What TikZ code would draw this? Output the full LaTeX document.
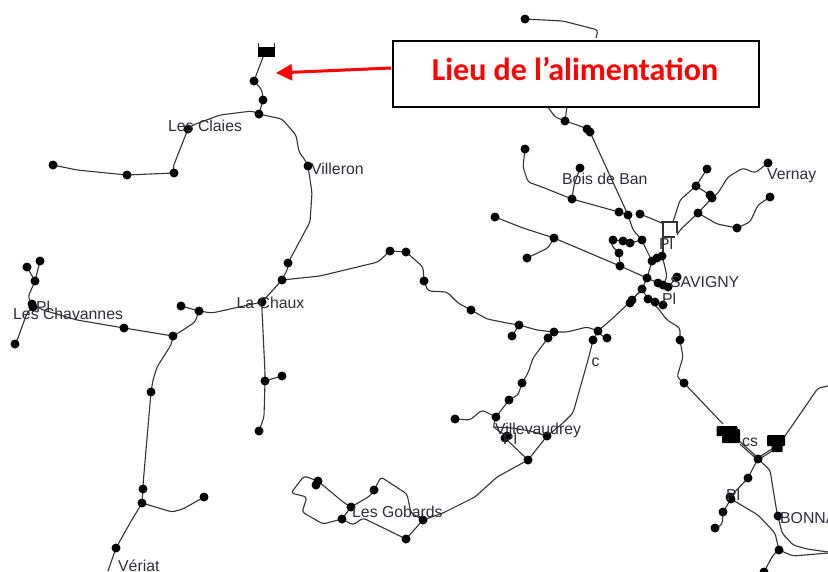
\documentclass[tikz,border=0pt]{standalone}
\usepackage{fontspec}
\setmainfont{Liberation Sans}
\newfontfamily\calibri{Carlito}
\usetikzlibrary{arrows.meta}
\definecolor{linec}{HTML}{333333}
\definecolor{labelc}{HTML}{2E2E3C}
\definecolor{alarm}{HTML}{FF0000}
\tikzset{
  dot/.style={circle,fill=black,draw=none,minimum size=9pt,inner sep=0pt},
  blob/.style={fill=black,draw=none,inner sep=0pt,rounded corners=1pt},
  net/.style={draw=linec,line width=1.1pt,line join=round,rounded corners=3pt},
  lab/.style={anchor=base west,inner sep=0pt,text=labelc,font=\fontsize{15.8pt}{17pt}\selectfont},
}
\begin{document}
\begin{tikzpicture}[x=1pt,y=-1pt]
\useasboundingbox[fill=white] (0,0) rectangle (828,571);
\foreach \n/\x/\y in {
 t1/254/81,t2/263/100,t3/259/114,lc/188/129,a1/174/173,a2/127/175,a3/53/165,vi/308/166,b1/288/263,b2/282/280,ch/262/302,
 c1/199/311,c2/181/306,c3/173/336,c4/124/328,p1/32/304,p2/33/307,p3/35/281,p4/27/267,p5/40/261,p6/15/344,
 d1/151/392,d2/143/489,d3/142/503,d4/204/497,d5/116/548,
 e1/265/381,e2/282/376,e3/259/431,
 f1/390/251,f2/406/252,f3/424/281,f4/471/310,f5/519/325,f6/512/336,f7/554/332,f8/598/331,f9/607/338,f10/593/340,
 g1/548/338,g2/522/383,g3/509/400,g4/496/417,g5/455/419,g6/507/436,g6b/505/438,g7/547/436,g8/528/460,
 h1/423/520,h2/406/539,h3/342/519,h4/351/507,h5/316/485,h5b/318/481,h6/374/490,
 k0/525/19,k1/565/121,k2/587/129,k2b/590/132,
 m1/525/149,m2/572/199,m3/580/168,m4/619/212,m5/628/215,m6/640/214,
 n1/696/186,n2/707/169,n3/710/195,n3b/712/198,n4/698/213,n5/737/228,n6/770/197,n7/768/163,
 q1/495/217,q2/554/238,q3/527/258,q4/620/266,
 r1/613/240,r2/623/241,r3/630/243,r4/642/240,r5/619/253,r6/652/261,r7/657/258,r8/662/256,
 s1/647/278,s2/658/283,s3/663/285,s4/668/287,s5/677/277,s6/642/289,s7/632/300,s7b/630/303,s8/648/299,s9/655/302,s10/663/305,
 u1/680/340,u2/684/383,v1/758/459,v2/748/478,v3/730/497,v3b/731/499,v4/723/512,v5/715/528,v6/778/516,v7/779/550,v8/764/572}
 {\coordinate (\n) at (\x,\y);}
\coordinate (tank) at (263,57);
\coordinate (blobL) at (723,424);
\coordinate (blobLe) at (740,443);
\coordinate (blobR) at (772,450);
\coordinate (blobRt) at (785,436);
\begin{scope}[every path/.style={net}]
\draw (tank) -- (t1) -- (262,90) -- (t2) -- (t3);
\draw (t3) -- (252,111) -- (220,115) -- (193,125) -- (lc) -- (173,167) -- (a1) -- (a2) -- (77,170) -- (a3);
\draw (t3) -- (282,119) -- (296,135) -- (299,152) -- (305,160) -- (vi) -- (312,193) -- (310,222) -- (b1) -- (288,268) -- (b2);
\draw (b2) -- (ch) -- (212,313) -- (c1) -- (c2);
\draw (c1) -- (195,322) -- (180,332) -- (c3) -- (c4) -- (77,320) -- (43,310) -- (p1);
\draw (p6) -- (18,338) -- (27,313) -- (p2) -- (p1) -- (28,297) -- (p3) -- (p4);
\draw (p3) -- (p5);
\draw (c3) -- (171,345) -- (157,367) -- (153,380) -- (d1) -- (143,485) -- (d2) -- (d3) -- (172,512) -- (183,509) -- (d4);
\draw (d3) -- (130,523) -- (d5) -- (108,571);
\draw (ch) -- (262,310) -- (265,373) -- (e1) -- (e2);
\draw (e1) -- (264,417) -- (e3);
\draw (b2) -- (320,276) -- (378,262) -- (f1) -- (f2) -- (423,267) -- (f3) -- (428,291) -- (447,292) -- (458,303) -- (f4) -- (487,319) -- (507,323) -- (f5) -- (f6);
\draw (f5) -- (537,330) -- (f7) -- (567,332) -- (587,327) -- (f8) -- (603,337) -- (f9);
\draw (f8) -- (f10) -- (588,360) -- (573,413) -- (562,424) -- (g7) -- (g8) -- (g6b) -- (g6);
\draw (f7) -- (g1) -- (533,358) -- (528,373) -- (g2) -- (518,395) -- (g3) -- (g4) -- (482,410) -- (470,420) -- (g5);
\draw (g4) -- (493,427) -- (g6);
\draw (493,427) -- (513,428) -- (530,431) -- (g7);
\draw (g8) -- (497,477) -- (475,497) -- (443,513) -- (h1) -- (h2) -- (363,518) -- (353,525) -- (h3) -- (323,524) -- (302,512) -- (307,497) -- (291,493) -- (304,476) -- (h5b) -- (h5);
\draw (h5b) -- (343,502) -- (h4) -- (h3);
\draw (h4) -- (370,496) -- (h6) -- (381,477) -- (407,494) -- (411,513) -- (h1);
\draw (k0) -- (563,21) -- (598,30) -- (596,38);
\draw (548,107) -- (555,117) -- (k1);
\draw (567,107) -- (k1) -- (580,126) -- (k2) -- (k2b) -- (m5) -- (633,230) -- (r4) -- (645,247) -- (r6);
\draw (m1) -- (523,167) -- (528,182) -- (542,187) -- (m2) -- (m4) -- (m5);
\draw (m3) -- (574,185) -- (m2);
\draw (m6) -- (662,223);
\draw (n2) -- (n1) -- (680,200) -- (673,222);
\draw (n1) -- (n3) -- (n3b) -- (n4) -- (680,230) -- (677,235);
\draw (n4) -- (717,224) -- (n5) -- (750,222) -- (758,205) -- (n6);
\draw (n3b) -- (718,193) -- (728,177) -- (743,168) -- (755,173) -- (n7);
\draw (q1) -- (523,228) -- (q2) -- (q4) -- (s1);
\draw (q2) -- (548,248) -- (q3);
\draw (r1) -- (r2) -- (r3) -- (r4);
\draw (r1) -- (611,245) -- (r5) -- (q4);
\draw[rounded corners=0pt] (663,222) -- (663,237) -- (675,237);
\draw (677,222) -- (677,233);
\draw[line width=2pt] (661,222) -- (678,222);
\draw (r6) -- (r7) -- (r8);
\draw (663,237) -- (663,256);
\draw (r8) -- (665,267) -- (667,277) -- (s3);
\draw (r6) -- (s1) -- (s2) -- (s3) -- (s4);
\draw (s5) -- (s4);
\draw (s1) -- (s6);
\draw ([xshift=1.2pt,yshift=1.2pt]s6.center) -- ([xshift=1.2pt,yshift=1.2pt]s7.center);
\draw ([xshift=-1pt,yshift=-1pt]s6.center) -- ([xshift=-1pt,yshift=-1pt]s7.center);
\draw (s7) -- (613,318) -- (f8);
\draw (s6) -- (s8) -- (s9) -- (s10);
\draw (s8) -- (657,307) -- (667,320) -- (680,328) -- (u1) -- (683,357) -- (677,377) -- (u2) -- (blobL);
\draw ([yshift=1.2pt]blobLe) -- ([yshift=1.2pt]v1);
\draw ([yshift=-1.2pt]blobLe) -- ([yshift=-1.2pt]v1);
\draw ([yshift=1.2pt]blobR) -- ([yshift=1.2pt]v1);
\draw ([yshift=-1pt]blobR) -- ([yshift=-1pt]v1);
\draw (blobRt) -- (818,388) -- (828,386);
\draw (v1) -- (770,470) -- (777,513) -- (v6) -- (782,533) -- (793,545) -- (807,549) -- (828,552);
\draw (v1) -- (753,468) -- (v2) -- (v3);
\draw (v3b) -- (v4) -- (722,525) -- (v5);
\draw (v3b) -- (758,515) -- (775,533) -- (v7) -- (793,556) -- (828,553);
\draw (v7) -- (773,555) -- (v8);
\end{scope}
\foreach \n in {t1,t2,t3,lc,a1,a2,a3,vi,b1,b2,ch,c1,c2,c3,c4,p1,p2,p3,p4,p5,p6,d1,d2,d3,d4,d5,e1,e2,e3,
 f1,f2,f3,f4,f5,f6,f7,f8,f9,f10,g1,g2,g3,g4,g5,g6,g6b,g7,g8,h1,h2,h3,h4,h5,h5b,h6,
 k0,k1,k2,k2b,m1,m2,m3,m4,m5,m6,n1,n2,n3,n3b,n4,n5,n6,n7,q1,q2,q3,q4,
 r1,r2,r3,r4,r5,r6,r7,r8,s1,s2,s3,s4,s5,s6,s7,s7b,s8,s9,s10,u1,u2,v1,v2,v3,v3b,v4,v5,v6,v7,v8}
 {\node[dot] at (\n) {};}
\node[blob,rounded corners=0pt,minimum width=17pt,minimum height=10pt] (tanknode) at (266,51.5) {};
\draw[linec,line width=0.6pt] (258,43) -- (258,47) (274,43) -- (274,47);
\node[blob,minimum width=21pt,minimum height=10pt] (bl1) at (727,431) {};
\node[blob,minimum width=18pt,minimum height=14pt] (bl2) at (731,436) {};
\node[blob,minimum width=18pt,minimum height=11pt] (br1) at (776,440.5) {};
\node[blob,minimum width=11pt,minimum height=9pt] (br2) at (777,447.5) {};
\node[lab] (l1) at (168,131.7) {Les Claies};
\node[lab] (l2) at (311,174) {Villeron};
\node[lab] (l3) at (236.5,308) {La Chaux};
\node[lab] (l4) at (13,319) {Les Chavannes};
\node[lab] (l5) at (36,312) {Pl};
\node[lab] (l6) at (118,571) {Vériat};
\node[lab] (l7) at (562,184) {Bois de Ban};
\node[lab] (l8) at (767,179) {Vernay};
\node[lab] (l9) at (659,249) {Pl};
\node[lab] (l10) at (670,287) {SAVIGNY};
\node[lab] (l11) at (662,304) {Pl};
\node[lab] (l12) at (591.5,366) {c};
\node[lab] (l13) at (495,434) {Villevaudrey};
\node[lab] (l14) at (503,444) {Pl};
\node[lab] (l15) at (352,517) {Les Gobards};
\node[lab] (l16) at (742,446) {cs};
\node[lab] (l17) at (726,500) {Pl};
\node[lab] (l18) at (780,523) {BONNA};
\node[draw=black,fill=white,line width=2pt,minimum width=366pt,minimum height=66pt,inner sep=0pt,anchor=north west] (box) at (391.5,40) {};
\node[anchor=base,inner sep=0pt,text=alarm,font=\calibri\bfseries\fontsize{32pt}{34pt}\selectfont] (title) at (575,80.5) {Lieu de l’alimentation};
\coordinate (astart) at (391,68);
\coordinate (atip) at (276,73);
\draw[alarm,line width=3pt,-{Triangle[length=16pt,width=16pt]}] (astart) -- (atip);
\end{tikzpicture}
\end{document}
